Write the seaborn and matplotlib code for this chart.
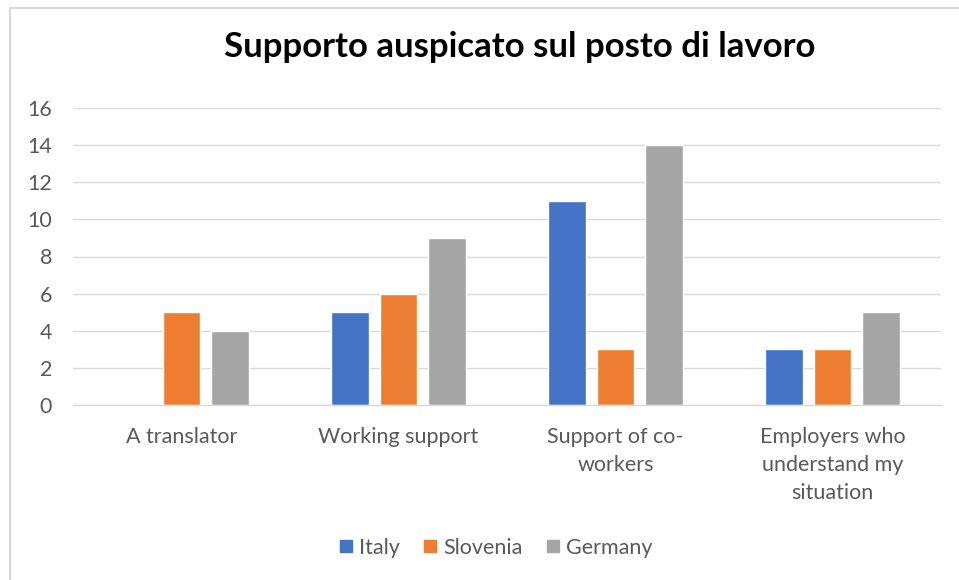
import matplotlib
matplotlib.use("Agg")
import matplotlib.pyplot as plt
from matplotlib.lines import Line2D
import seaborn as sns
import pandas as pd

categories = ["A translator", "Working support", "Support of co-\nworkers",
              "Employers who\nunderstand my\nsituation"]
countries = ["Italy", "Slovenia", "Germany"]
italy = [0, 5, 11, 3]
slovenia = [5, 6, 3, 3]
germany = [4, 9, 14, 5]
yticks = [0, 2, 4, 6, 8, 10, 12, 14, 16]
palette = ["#4472C4", "#ED7D31", "#A5A5A5"]

df = pd.DataFrame({
    "category": categories * 3,
    "country": [c for c in countries for _ in categories],
    "value": italy + slovenia + germany,
})

sns.set_theme(style="white")
plt.rcParams["font.family"] = ["Lato", "DejaVu Sans"]

fig = plt.figure(figsize=(9.59, 5.80), dpi=100)
ax = fig.add_axes([73 / 959, 1 - 405 / 580, 868 / 959, 297 / 580])

sns.barplot(data=df, x="category", y="value", hue="country", palette=palette,
            width=0.664, gap=0.21, saturation=1, ax=ax, legend=False,
            errorbar=None)

ax.set_ylim(0, 16)
ax.set_xlim(-0.5, 3.5)
ax.set_yticks(yticks)
ax.set_yticklabels([str(t) for t in yticks])
ax.yaxis.grid(True, color="#D9D9D9", linewidth=1)
ax.set_axisbelow(True)
for s in ["top", "right", "left"]:
    ax.spines[s].set_visible(False)
ax.spines["bottom"].set_color("#D9D9D9")
ax.spines["bottom"].set_linewidth(1)
ax.set_xlabel("")
ax.set_ylabel("")
ax.tick_params(axis="y", length=0, pad=15, labelsize=15.5, labelcolor="#595959")
ax.tick_params(axis="x", length=0, pad=16, labelsize=15.5, labelcolor="#595959")
for lbl in ax.get_xticklabels():
    lbl.set_linespacing(1.5)
    lbl.set_verticalalignment("top")

fig.text(0.542, 1 - 47 / 580, "Supporto auspicato sul posto di lavoro",
         ha="center", va="center", fontsize=25, fontweight="bold", color="black")

handles = [Line2D([], [], marker="s", linestyle="none", markersize=9,
                  markerfacecolor=c, markeredgecolor=c) for c in palette]
fig.legend(handles, countries, loc="center", bbox_to_anchor=(0.515, 1 - 548 / 580),
           ncol=3, frameon=False, fontsize=15.5, labelcolor="#595959",
           handletextpad=0.1, columnspacing=0.9, handlelength=1.0)

# chart frame
fig.add_artist(Line2D([10 / 959, 10 / 959], [0, 1 - 8 / 580], transform=fig.transFigure,
                      color="#D9D9D9", linewidth=1.5))
fig.add_artist(Line2D([10 / 959, 1], [1 - 8 / 580, 1 - 8 / 580], transform=fig.transFigure,
                      color="#D9D9D9", linewidth=1.5))

fig.savefig("out.png", dpi=100)
